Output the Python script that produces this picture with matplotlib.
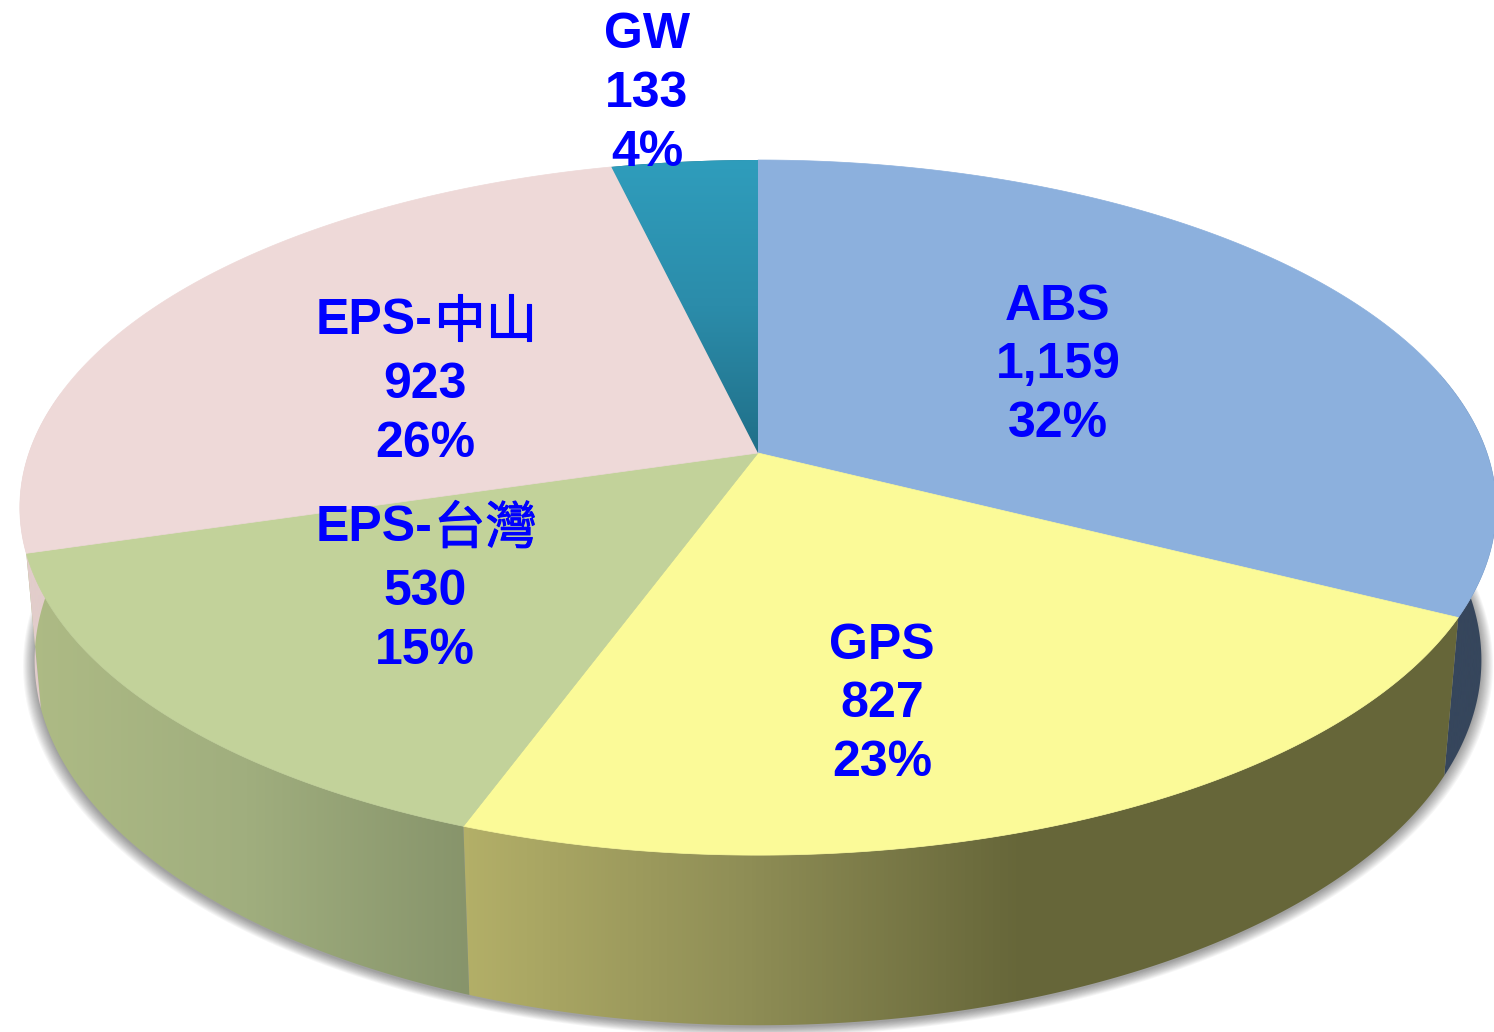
import numpy as np
import matplotlib
matplotlib.use('Agg')
import matplotlib.pyplot as plt
import matplotlib.patheffects as pe
from matplotlib.colors import LinearSegmentedColormap
from matplotlib.patches import Polygon

# Data, clockwise from twelve o'clock
names = ['ABS', 'GPS', 'EPS-台灣', 'EPS-中山', 'GW']
values = [1159, 827, 530, 923, 133]

top_colors = ['#8CB0DD', '#FBFA98', '#C2D29A', '#EED9D8', None]
gw_gradient = ['#2F9DBC', '#2B8CAA', '#206F88']

# wall gradients, left to right in x
wall_colors = {
    'ABS': ([(0, '#36465C'), (1, '#36465C')], 1440, 1494),
    'GPS': ([(0, '#B3AF68'), (0.28, '#8F8E56'), (0.56, '#666639'), (1, '#666639')], 463, 1460),
    'EPS-台灣': ([(0, '#AEBB85'), (0.5, '#A0AE7E'), (1, '#87946B')], 25, 470),
    'EPS-中山': ([(0, '#E2CDCB'), (1, '#E2CDCB')], 15, 60),
    'GW': ([(0, '#1F6F88'), (1, '#1F6F88')], 600, 760),
}

# label line centres in pixels
label_x = [1058, 882, 425, 425, 647]
label_y = [(307, 365, 424), (646, 704, 763), (528, 592, 651), (321, 385, 444), (35, 94, 153)]

# perspective of the pie disc
cx, cy = 758, 453
A, B, k = 729, 339, 0.157
wall_sx, wall_sy, wall_dy = 0.98, 1.05, 150


def disc(t):
    # t in radians, clockwise from the top
    u, v = np.sin(t), np.cos(t)
    w = 1 + k * v
    return cx + A * u / w, cy - B * v / w


def lower(t):
    x, y = disc(t)
    return cx + (x - cx) * wall_sx, cy + (y - cy) * wall_sy + wall_dy


fig, ax = plt.subplots(figsize=(14.94, 10.32), dpi=100)
ax.set_position([0, 0, 1, 1])
ax.axis('off')

share = np.array(values) / sum(values)
edges = np.concatenate([[0], np.cumsum(share)]) * 2 * np.pi

# soft shadow under the pie
full = np.linspace(0, 2 * np.pi, 400)
sx, sy = lower(full)
for grow in np.linspace(1.016, 1.0, 12):
    ax.fill(cx + (sx - cx) * grow, sy + 2 + (sy - cy) * (grow - 1),
            color='black', alpha=0.035, lw=0, zorder=1)

# side walls, back slices first
for i in [0, 4, 3, 2, 1]:
    t = np.linspace(edges[i], edges[i + 1], 200)
    x1, y1 = disc(t)
    x2, y2 = lower(t)
    poly = Polygon(np.column_stack([np.r_[x1, x2[::-1]], np.r_[y1, y2[::-1]]]),
                   closed=True, fc='none', ec='none', transform=ax.transData)
    ax.add_patch(poly)
    cols, x0, x3 = wall_colors[names[i]]
    cmap = LinearSegmentedColormap.from_list('wall', cols)
    im = ax.imshow(np.linspace(0, 1, 256)[None, :], cmap=cmap, extent=[x0, x3, 1032, 0],
                   aspect='auto', zorder=2 + 0.01 * i, interpolation='bilinear')
    im.set_clip_path(poly)

# top of the pie
for i, name in enumerate(names):
    t = np.linspace(edges[i], edges[i + 1], 300)
    x, y = disc(t)
    px, py = np.r_[cx, x], np.r_[cy, y]
    if top_colors[i] is not None:
        ax.fill(px, py, color=top_colors[i], lw=0.5, zorder=3)
    else:
        poly = Polygon(np.column_stack([px, py]), closed=True, fc='none', ec='none',
                       transform=ax.transData)
        ax.add_patch(poly)
        cmap = LinearSegmentedColormap.from_list('gw', gw_gradient)
        im = ax.imshow(np.linspace(0, 1, 256)[:, None], cmap=cmap, extent=[600, 770, cy, 160],
                       origin='upper', aspect='auto', zorder=3, interpolation='bilinear')
        im.set_clip_path(poly)

ax.set_xlim(0, 1494)
ax.set_ylim(1032, 0)

latin = 'Liberation Sans'
cjk = 'Noto Sans CJK TC'
fs = 36

for i, name in enumerate(names):
    lines = [name, f'{values[i]:,}', f'{share[i] * 100:.0f}%']
    for j, line in enumerate(lines):
        if j == 0 and name.startswith('EPS-'):
            # bold latin part followed by lighter CJK part
            ax.text(316, label_y[i][0], 'EPS-', color='#0000FF', fontsize=fs, fontweight='bold',
                    family=latin, ha='left', va='center', zorder=5)
            ax.text(434, label_y[i][0] + 1, name[4:], color='#0000FF', fontsize=37,
                    family=cjk, ha='left', va='center', zorder=5,
                    path_effects=[pe.withStroke(linewidth=0.8, foreground='#0000FF')])
        else:
            ax.text(label_x[i], label_y[i][j], line, color='#0000FF', fontsize=fs, fontweight='bold',
                    family=latin, ha='center', va='center', zorder=5)

fig.savefig('out.png', dpi=100, facecolor='white')
